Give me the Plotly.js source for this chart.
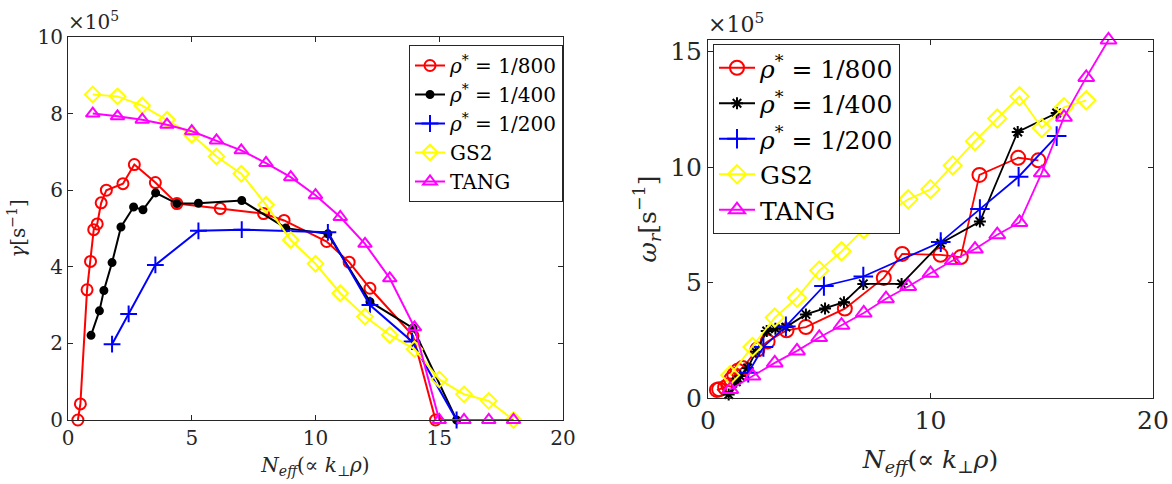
<!DOCTYPE html>
<html>
<head>
<meta charset="utf-8">
<script src="https://cdn.plot.ly/plotly-3.0.1.min.js"></script>
<style>html,body{margin:0;padding:0;background:#fff;}#chart{width:1172px;height:484px;}</style>
</head>
<body>
<div id="chart"></div>
<script>
// ---- Left panel: growth rate gamma (x 1e5 s^-1) ----
const xL800 = [0.4, 0.5, 0.77, 0.91, 1.04, 1.18, 1.34, 1.55, 2.22, 2.68, 3.53, 4.4, 6.15, 7.9, 8.73, 10.45, 11.36, 12.2, 13.94, 14.85];
const gL800 = [0, 0.42, 3.4, 4.14, 4.97, 5.12, 5.67, 6.0, 6.17, 6.67, 6.2, 5.65, 5.52, 5.39, 5.21, 4.66, 4.12, 3.44, 2.2, 0];
const xL400 = [0.93, 1.27, 1.45, 1.78, 2.14, 2.65, 3.03, 3.54, 4.4, 5.27, 7.02, 8.8, 10.5, 12.2, 13.94, 15.7];
const gL400 = [2.21, 2.85, 3.38, 4.11, 5.04, 5.56, 5.49, 5.93, 5.65, 5.66, 5.73, 5.01, 4.86, 3.09, 2.4, 0];
const xL200 = [1.78, 2.45, 3.53, 5.27, 7.02, 10.5, 12.2, 13.9, 15.7];
const gL200 = [1.98, 2.77, 4.05, 4.94, 4.97, 4.9, 3.0, 2.05, 0];
const xGS2 = [1, 2, 3, 4, 5, 6, 7, 8, 9, 10, 11, 12, 13, 14, 15, 16, 17, 18];
const gGS2 = [8.5, 8.45, 8.21, 7.84, 7.45, 6.88, 6.43, 5.62, 4.7, 4.08, 3.31, 2.7, 2.22, 1.85, 1.06, 0.67, 0.5, 0];
const xTANG = [1, 2, 3, 4, 5, 6, 7, 8, 9, 10, 11, 12, 13, 14, 15, 16, 17, 18];
const gTANG = [8.0, 7.93, 7.84, 7.71, 7.54, 7.3, 7.04, 6.71, 6.34, 5.87, 5.3, 4.6, 3.7, 2.42, 0, 0, 0, 0];

// ---- Right panel: real frequency omega_r (x 1e5 s^-1) ----
const xR800 = [0.4, 0.5, 0.77, 0.91, 1.04, 1.18, 1.34, 1.55, 2.22, 2.68, 3.53, 4.4, 6.15, 7.9, 8.73, 10.45, 11.36, 12.2, 13.94, 14.85];
const wR800 = [0.35, 0.38, 0.45, 0.55, 0.8, 1.0, 1.18, 1.3, 2.1, 2.45, 2.93, 3.07, 3.87, 5.2, 6.24, 6.2, 6.1, 9.66, 10.4, 10.29];
const xR400 = [0.93, 1.27, 1.45, 1.78, 2.14, 2.64, 3.03, 3.5, 4.4, 5.26, 6.11, 6.98, 8.7, 10.46, 12.22, 13.92, 15.67];
const wR400 = [0.15, 0.7, 0.95, 1.3, 2.0, 2.9, 3.0, 3.07, 3.62, 3.87, 4.15, 4.94, 4.94, 6.7, 7.64, 11.52, 12.34];
const xR200 = [1.81, 2.49, 3.5, 5.21, 6.98, 10.46, 12.22, 13.96, 15.67];
const wR200 = [1.09, 2.21, 3.1, 4.85, 5.26, 6.75, 8.18, 9.58, 11.34];
const xRGS2 = [1, 2, 3, 4, 5, 6, 7, 8, 9, 10, 11, 12, 13, 14, 15, 16, 17];
const wGS2 = [0.99, 2.21, 3.48, 4.34, 5.52, 6.35, 7.31, 7.97, 8.6, 9.04, 10.07, 11.12, 12.1, 13.06, 11.69, 12.59, 12.89];
const xRTANG = [1, 2, 3, 4, 5, 6, 7, 8, 9, 10, 11, 12, 13, 14, 15, 16, 17, 18];
const wTANG = [0.37, 0.95, 1.52, 2.04, 2.62, 3.15, 3.68, 4.3, 4.83, 5.4, 5.95, 6.45, 7.07, 7.6, 9.75, 12.16, 13.88, 15.5];

const names = ['<i>ρ</i><sup>*</sup> = 1/800', '<i>ρ</i><sup>*</sup> = 1/400', '<i>ρ</i><sup>*</sup> = 1/200', 'GS2', 'TANG'];
const colors = ['#ff0000', '#000000', '#0000ff', '#ffff00', '#ff00ff'];

const SERIF = 'DejaVu Serif';
const TXT = '#262626';
const TICK_L = 20, TICK_R = 25, EXP_L = 20, EXP_R = 22;

function fnt(size, color) {
  return {family: SERIF, size: size, color: color || TXT, weight: 'normal', style: 'normal', variant: 'normal'};
}

function tr(x, y, i, sym, size, axis, legend, lw) {
  return {
    x: x, y: y, type: 'scatter', mode: 'lines+markers', name: names[i],
    xaxis: axis[0], yaxis: axis[1], legend: legend,
    line: {color: colors[i], width: lw},
    marker: {symbol: sym, size: size, color: colors[i], line: {color: colors[i], width: 2}},
    cliponaxis: false
  };
}

const L = ['x', 'y'], R = ['x2', 'y2'];
const data = [
  tr(xL800, gL800, 0, 'circle-open', 11, L, 'legend', 2),
  tr(xL400, gL400, 1, 'circle', 7, L, 'legend', 2),
  tr(xL200, gL200, 2, 'cross-thin-open', 12, L, 'legend', 2),
  tr(xGS2, gGS2, 3, 'diamond-open', 12, L, 'legend', 2),
  tr(xTANG, gTANG, 4, 'triangle-up-open', 12, L, 'legend', 2),
  tr(xR800, wR800, 0, 'circle-open', 14, R, 'legend2', 1.8),
  tr(xR400, wR400, 1, 'asterisk-open', 10, R, 'legend2', 1.8),
  tr(xR200, wR200, 2, 'cross-thin-open', 14, R, 'legend2', 1.8),
  tr(xRGS2, wGS2, 3, 'diamond-open', 14, R, 'legend2', 1.8),
  tr(xRTANG, wTANG, 4, 'triangle-up-open', 14, R, 'legend2', 1.8)
];

const W = 1172, H = 484;
function ax(extra) {
  return Object.assign({
    showgrid: false, zeroline: false, showline: true, mirror: 'ticks',
    linecolor: TXT, linewidth: 1, ticks: 'inside', ticklen: 5, tickcolor: TXT
  }, extra);
}

const layout = {
  width: W, height: H, margin: {l: 0, r: 0, t: 0, b: 0},
  paper_bgcolor: '#fff', plot_bgcolor: '#fff',
  font: fnt(20),
  xaxis: ax({domain: [68/W, 563/W], range: [0, 20], tickvals: [0, 5, 10, 15, 20], tickfont: fnt(TICK_L), anchor: 'y',
    title: {text: '<i>N</i><sub><i>eff</i></sub>(∝ <i>k</i><sub>⊥</sub><i>ρ</i>)', font: fnt(20), standoff: 8}}),
  yaxis: ax({domain: [1 - 420/H, 1 - 37/H], range: [0, 10], tickvals: [0, 2, 4, 6, 8, 10], tickfont: fnt(TICK_L), anchor: 'x',
    title: {text: '<i>γ</i>[s<sup>−1</sup>]', font: fnt(20), standoff: 6}}),
  xaxis2: ax({domain: [708/W, 1153/W], range: [0, 20], tickvals: [0, 10, 20], tickfont: fnt(TICK_R), anchor: 'y2',
    title: {text: '<i>N</i><sub><i>eff</i></sub>(∝ <i>k</i><sub>⊥</sub><i>ρ</i>)', font: fnt(25), standoff: 16}}),
  yaxis2: ax({domain: [1 - 398/H, 1 - 40/H], range: [0, 15.5], tickvals: [0, 5, 10, 15], tickfont: fnt(TICK_R), anchor: 'x2',
    title: {text: '<i>ω</i><sub><i>r</i></sub>[s<sup>−1</sup>]', font: fnt(25), standoff: 6}}),
  legend: {x: 409/W, y: 1 - 45/H, xanchor: 'left', yanchor: 'top', bgcolor: '#fff', bordercolor: TXT, borderwidth: 1,
    font: fnt(20, '#000'), itemwidth: 30, tracegroupgap: 0},
  legend2: {x: 713/W, y: 1 - 44/H, xanchor: 'left', yanchor: 'top', bgcolor: '#fff', bordercolor: TXT, borderwidth: 1,
    font: fnt(25, '#000'), itemwidth: 36, tracegroupgap: 0},
  annotations: [
    {text: '×10<sup>5</sup>', xref: 'paper', yref: 'paper', x: 66/W, y: 1 - 36/H, xanchor: 'left', yanchor: 'bottom', align: 'left', showarrow: false, font: fnt(EXP_L)},
    {text: '×10<sup>5</sup>', xref: 'paper', yref: 'paper', x: 706/W, y: 1 - 39/H, xanchor: 'left', yanchor: 'bottom', align: 'left', showarrow: false, font: fnt(EXP_R)}
  ]
};

Plotly.newPlot('chart', data, layout, {displayModeBar: false, staticPlot: true}).then(function (gd) {
  // make sure tick labels and exponent labels carry their font size and family
  function fix(sel, size) {
    gd.querySelectorAll(sel).forEach(function (t) {
      t.style.fontSize = size + 'px';
      t.style.fontFamily = SERIF;
      t.style.fill = TXT;
    });
  }
  fix('g.xtick text', TICK_L);
  fix('g.ytick text', TICK_L);
  fix('g.x2tick text', TICK_R);
  fix('g.y2tick text', TICK_R);
  const ann = gd.querySelectorAll('.annotation-text');
  if (ann[0]) { ann[0].style.fontSize = EXP_L + 'px'; ann[0].style.fontFamily = SERIF; }
  if (ann[1]) { ann[1].style.fontSize = EXP_R + 'px'; ann[1].style.fontFamily = SERIF; }
});
</script>
</body>
</html>
